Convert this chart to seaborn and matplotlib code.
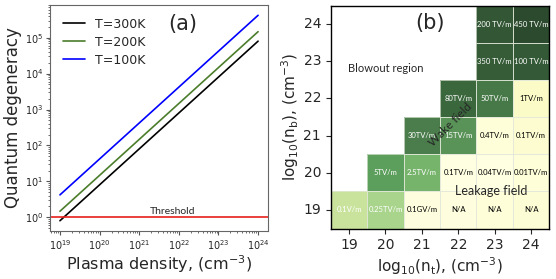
import matplotlib
matplotlib.use('Agg')
import matplotlib.pyplot as plt
from matplotlib.colors import LinearSegmentedColormap
from matplotlib.patches import Rectangle
import numpy as np
import pandas as pd
import seaborn as sns
sns.set_style('ticks')

# panel (a): quantum degeneracy vs plasma density
density = [1e19, 1e20, 1e21, 1e22, 1e23, 1e24]
deg_300K = [0.8, 8.0, 80.0, 800.0, 8.0e3, 8.0e4]
deg_200K = [1.47, 14.7, 147.0, 1.47e3, 1.47e4, 1.47e5]
deg_100K = [4.2, 42.0, 420.0, 4.2e3, 4.2e4, 4.2e5]
threshold = 1.0

# panel (b): field strength map, rows n_b = 24 ... 19, columns n_t = 19 ... 24
nt_labels = [19, 20, 21, 22, 23, 24]
nb_labels = [24, 23, 22, 21, 20, 19]
field_text = [
    ['', '', '', '', '200 TV/m', '450 TV/m'],
    ['', '', '', '', '350 TV/m', '100 TV/m'],
    ['', '', '', '80TV/m', '50TV/m', '1TV/m'],
    ['', '', '30TV/m', '15TV/m', '0.4TV/m', '0.1TV/m'],
    ['', '5TV/m', '2.5TV/m', '0.1TV/m', '0.04TV/m', '0.01TV/m'],
    ['0.1V/m', '0.25TV/m', '0.1GV/m', 'N/A', 'N/A', 'N/A'],
]
# shade level of each cell (nan = empty)
shade = [
    [np.nan, np.nan, np.nan, np.nan, 0.93, 1.00],
    [np.nan, np.nan, np.nan, np.nan, 0.90, 0.92],
    [np.nan, np.nan, np.nan, 0.85, 0.75, 0.06],
    [np.nan, np.nan, 0.72, 0.60, 0.02, 0.04],
    [np.nan, 0.55, 0.45, 0.00, 0.00, 0.02],
    [0.22, 0.32, 0.01, 0.01, 0.02, 0.03],
]

fig = plt.figure(figsize=(5.56, 2.79), dpi=100)
ax1 = fig.add_axes([0.090, 0.172, 0.392, 0.810])
ax2 = fig.add_axes([0.595, 0.181, 0.393, 0.799])

# ---- (a)
df = pd.DataFrame({
    'density': density * 3,
    'degeneracy': deg_300K + deg_200K + deg_100K,
    'T': ['T=300K'] * 6 + ['T=200K'] * 6 + ['T=100K'] * 6,
})
sns.lineplot(data=df, x='density', y='degeneracy', hue='T', ax=ax1,
             palette={'T=300K': 'black', 'T=200K': '#4b7d2b', 'T=100K': 'blue'},
             linewidth=1.2)
ax1.set_xscale('log')
ax1.set_yscale('log')
ax1.axhline(threshold, color='#e8201c', linewidth=1.2)
ax1.text(7e21, threshold * 1.08, 'Threshold', fontsize=7.5, family='Lato',
         ha='center', va='bottom')
ax1.text(0.61, 0.915, '(a)', transform=ax1.transAxes, fontsize=15,
         ha='center', va='center')
ax1.legend(frameon=False, fontsize=9, loc='upper left', handlelength=1.8,
           borderaxespad=0.6, labelspacing=0.4)
ax1.set_xlabel('Plasma density, (cm$^{-3}$)', fontsize=11.5, labelpad=1)
ax1.set_ylabel('Quantum degeneracy', fontsize=12, labelpad=2)
ax1.tick_params(labelsize=7, length=3, color='#555555', pad=2)
ax1.tick_params(which='minor', length=1.5, color='#555555')
for sp in ax1.spines.values():
    sp.set_color('#666666')

# ---- (b)
cmap = LinearSegmentedColormap.from_list('field', [
    (0.00, '#ffffe2'), (0.06, '#fbfbc6'), (0.22, '#c9e39d'), (0.32, '#a8d48c'),
    (0.45, '#76b46c'), (0.55, '#5c9e5c'), (0.60, '#5a9358'), (0.72, '#4a7d4b'),
    (0.75, '#467a47'), (0.85, '#3b673d'), (0.90, '#355c37'), (0.93, '#335835'),
    (1.00, '#2c4a2d')])
shade_arr = np.array(shade)
sns.heatmap(shade_arr, mask=np.isnan(shade_arr), cmap=cmap, vmin=0, vmax=1,
            annot=np.array(field_text), fmt='', cbar=False, ax=ax2,
            linewidths=0,
            annot_kws={'fontsize': 5.5, 'family': 'Lato'},
            xticklabels=nt_labels, yticklabels=nb_labels)
# faint cell borders only on filled cells
for i, row in enumerate(shade):
    for j, v in enumerate(row):
        if not np.isnan(v):
            ax2.add_patch(Rectangle((j, i), 1, 1, fill=False,
                                    edgecolor='#e2e8da', linewidth=0.5))
# dark and mid-green cells carry white text
flat = [v for row in shade for v in row if not np.isnan(v)]
for t, v in zip(ax2.texts, flat):
    t.set_color('white' if v > 0.15 else 'black')

ax2.text(1.52, 1.7, 'Blowout region', fontsize=8, family='Lato',
         ha='center', va='center')
ax2.text(2.73, 0.46, '(b)', fontsize=15, ha='center', va='center')
ax2.text(3.27, 3.2, 'Wake field', fontsize=8.5, family='Lato', rotation=45,
         ha='center', va='center')
ax2.text(4.41, 4.98, 'Leakage field', fontsize=9, family='Lato',
         ha='center', va='center')
ax2.set_xlabel('log$_{10}$(n$_\\mathrm{t}$), (cm$^{-3}$)', fontsize=11, labelpad=2)
ax2.set_ylabel('log$_{10}$(n$_\\mathrm{b}$), (cm$^{-3}$)', fontsize=11, labelpad=2)
ax2.tick_params(labelsize=10, length=3.5, width=0.8)
plt.setp(ax2.get_yticklabels(), rotation=0)
plt.setp(ax2.get_xticklabels(), rotation=0)
for sp in ax2.spines.values():
    sp.set_visible(True)
    sp.set_color('black')
    sp.set_linewidth(1.0)

plt.savefig('out.png', dpi=100)
